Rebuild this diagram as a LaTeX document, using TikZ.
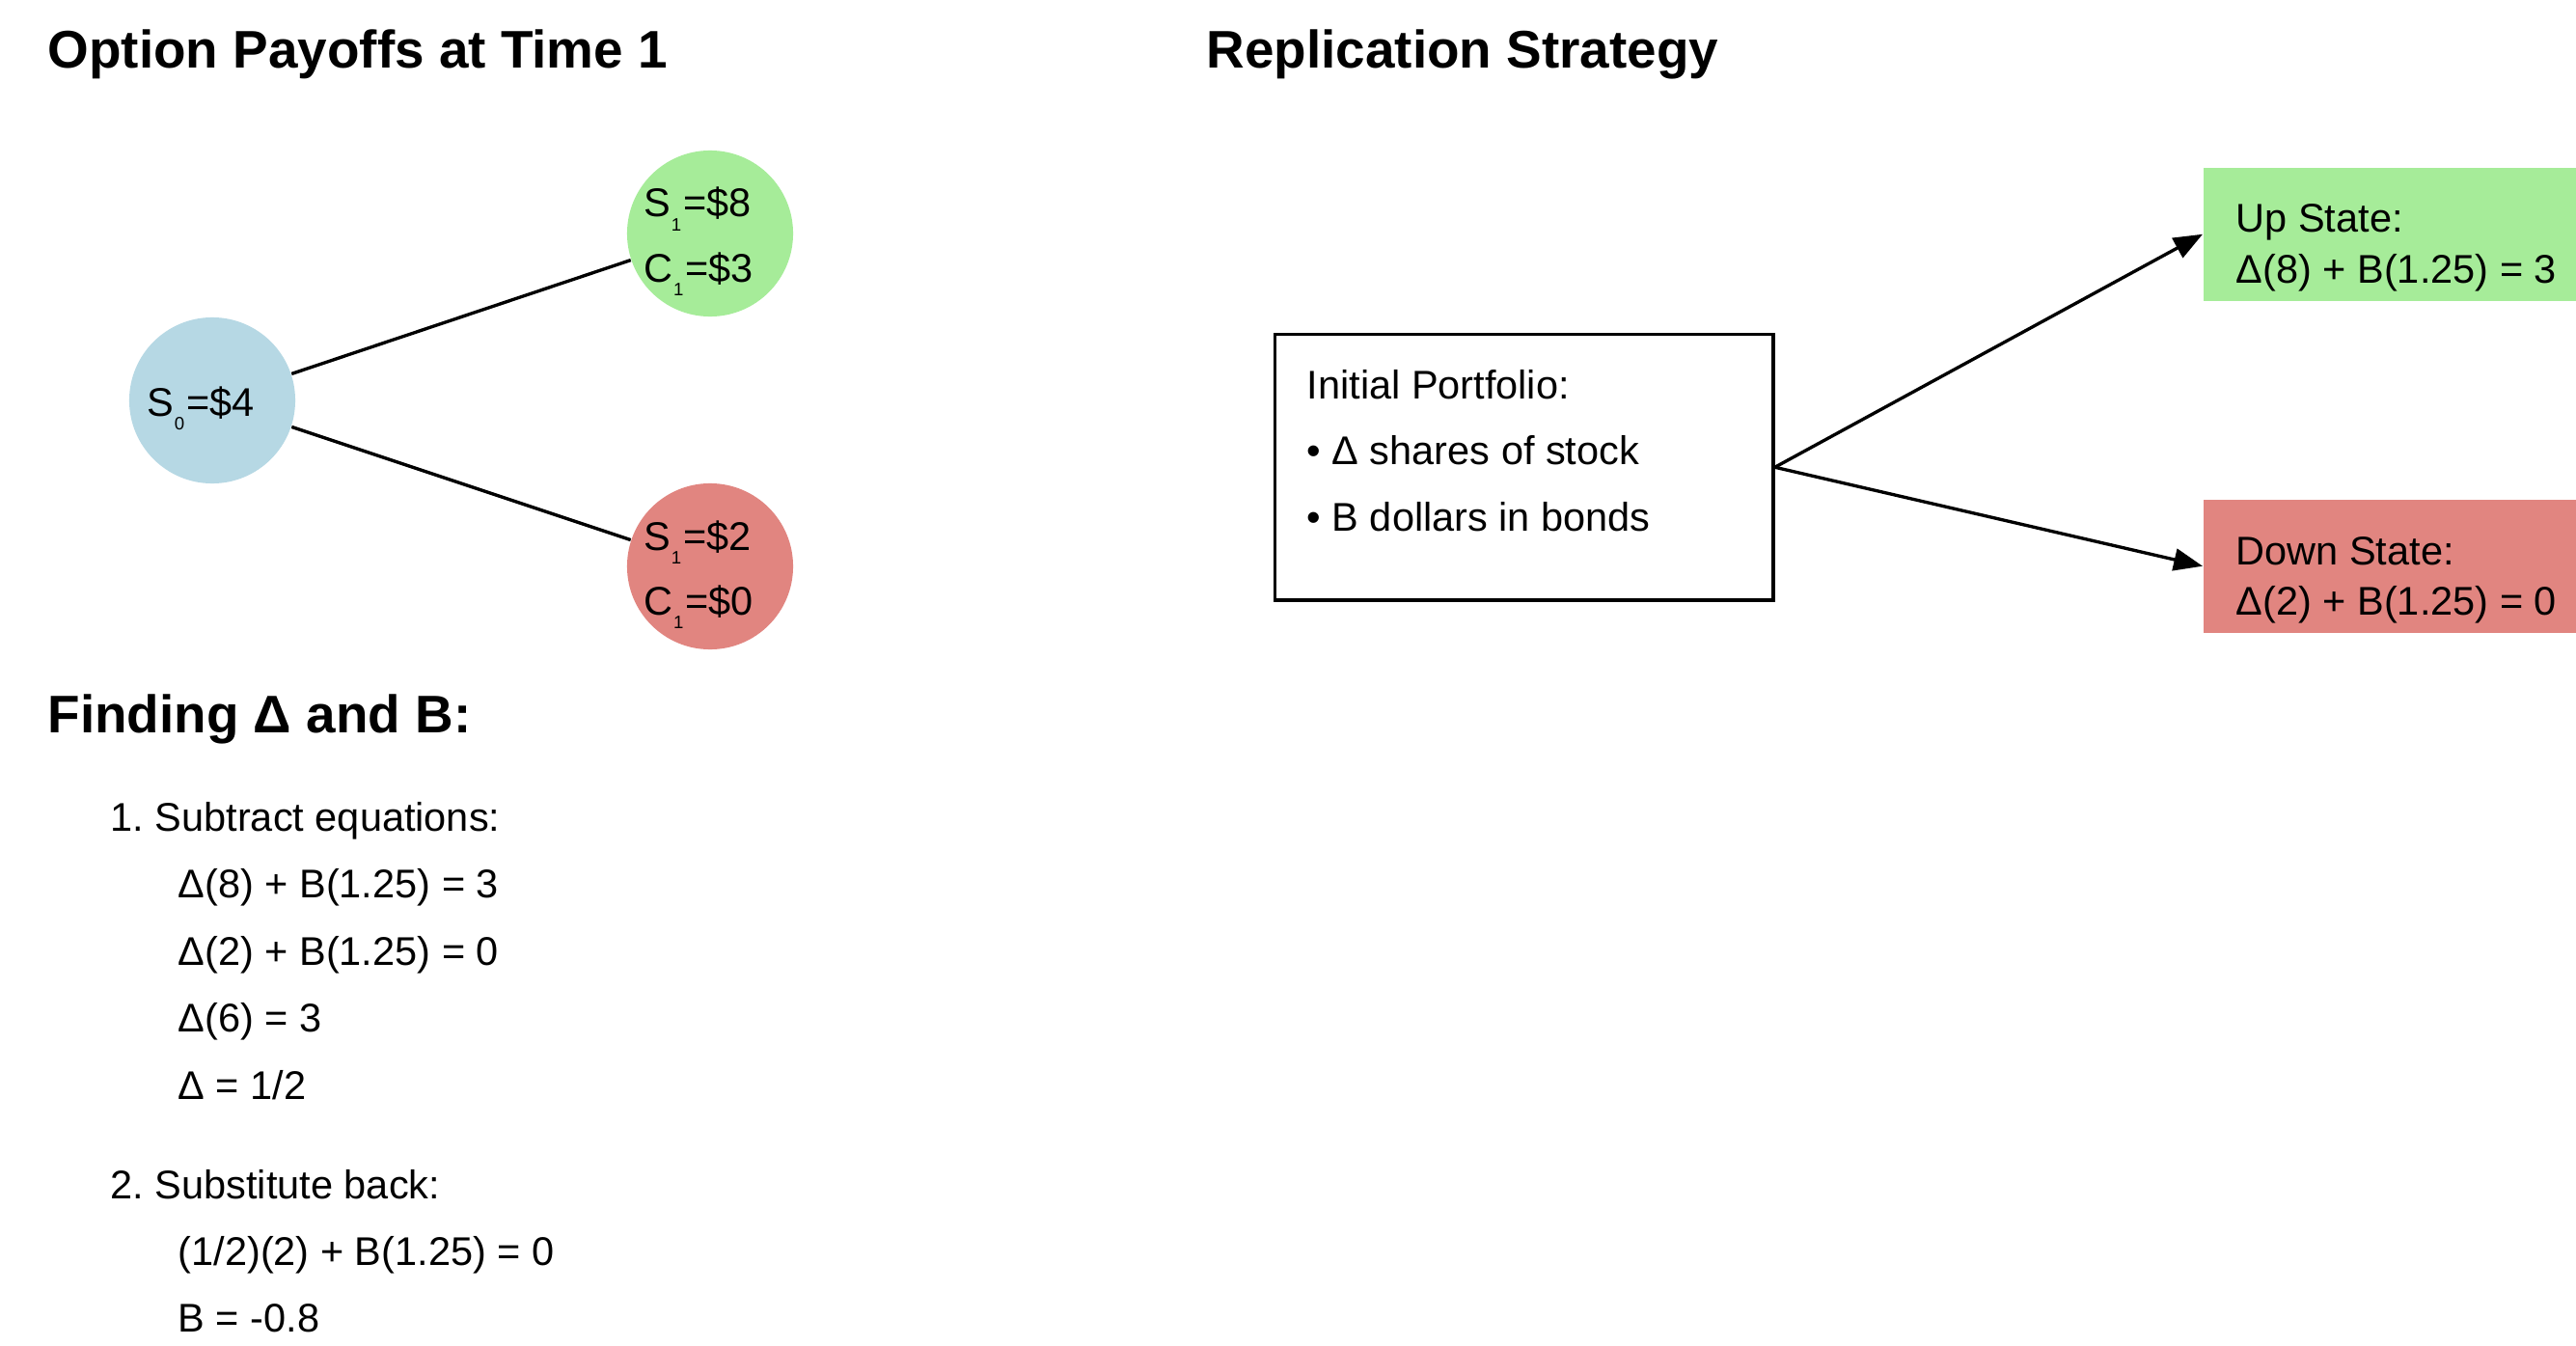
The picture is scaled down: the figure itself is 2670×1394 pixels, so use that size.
\documentclass[tikz,border=0pt]{standalone}
\usepackage{fontspec}
\setmainfont{Liberation Sans}
\usetikzlibrary{arrows.meta}
\definecolor{cblue}{RGB}{182,216,228}
\definecolor{cgreen}{RGB}{166,236,153}
\definecolor{cred}{RGB}{225,133,128}
\newcommand{\lowsub}[1]{\hspace{0.3pt}\raisebox{-4pt}{\fontsize{5.3pt}{6pt}\selectfont #1}\hspace{0.6pt}}
\frenchspacing
\begin{document}
\begin{tikzpicture}[x=0.01cm, y=-0.01cm,
  txt/.style={anchor=base west, inner sep=0pt, font=\fontsize{11.8pt}{14pt}\selectfont},
  ttl/.style={anchor=base west, inner sep=0pt, font=\fontsize{15.6pt}{18pt}\selectfont\bfseries},
  circ/.style={circle, minimum size=1.72cm, inner sep=0pt},
  conn/.style={line width=0.95pt},
  arr/.style={line width=0.95pt, -{Triangle[length=8.5pt,width=6.5pt]}},
  boxn/.style={rectangle, inner sep=0pt, anchor=north west}
]
\fill[white] (0,0) rectangle (2670,1394);
\useasboundingbox (0,0) rectangle (2670,1394);
\clip (0,0) rectangle (2670,1394);

% titles
\node[ttl] (t1) at (49,71) {Option Payoffs at Time 1};
\node[ttl] (t2) at (1250,71) {Replication Strategy};
\node[ttl] (t3) at (49,759) {Finding Δ and B:};

% tree
\node[circ, fill=cblue] (s0) at (220,415) {};
\node[circ, fill=cgreen] (u1) at (736,242) {};
\node[circ, fill=cred] (d1) at (736,587) {};
\draw[conn] (s0) -- (u1);
\draw[conn] (s0) -- (d1);
\node[txt] (s0t) at (151.4,431) {S\lowsub{0}=\$4};
\node[txt] (u1s) at (666.4,225) {S\lowsub{1}=\$8};
\node[txt] (u1c) at (666.4,292) {C\lowsub{1}=\$3};
\node[txt] (d1s) at (666.4,570) {S\lowsub{1}=\$2};
\node[txt] (d1c) at (666.4,637) {C\lowsub{1}=\$0};

% replication
\node[boxn, draw, line width=0.95pt, minimum width=5.16cm, minimum height=2.75cm] (pf) at (1320,345) {};
\node[boxn, fill=cgreen, minimum width=4.3cm, minimum height=1.38cm] (ub) at (2283,173) {};
\node[boxn, fill=cred, minimum width=4.3cm, minimum height=1.38cm] (db) at (2283,517) {};
\draw[arr] (pf.east) -- (ub.west);
\draw[arr] (pf.east) -- (db.west);

\node[txt] (pf1) at (1354,413.3) {Initial Portfolio:};
\node[txt] (pf2) at (1354,481.8) {• Δ shares of stock};
\node[txt] (pf3) at (1354,550.3) {• B dollars in bonds};

\node[txt] (ub1) at (2317,241) {Up State:};
\node[txt] (ub2) at (2317,293.3) {Δ(8) + B(1.25) = 3};
\node[txt] (db1) at (2317,585) {Down State:};
\node[txt] (db2) at (2317,637) {Δ(2) + B(1.25) = 0};

% finding
\node[txt] (l1) at (114,861) {1. Subtract equations:};
\node[txt] (l2) at (184,930.5) {Δ(8) + B(1.25) = 3};
\node[txt] (l3) at (184,1000) {Δ(2) + B(1.25) = 0};
\node[txt] (l4) at (184,1069.5) {Δ(6) = 3};
\node[txt] (l5) at (184,1139) {Δ = 1/2};
\node[txt] (l6) at (114,1242) {2. Substitute back:};
\node[txt] (l7) at (184,1311) {(1/2)(2) + B(1.25) = 0};
\node[txt] (l8) at (184,1380) {B = -0.8};
\end{tikzpicture}
\end{document}
